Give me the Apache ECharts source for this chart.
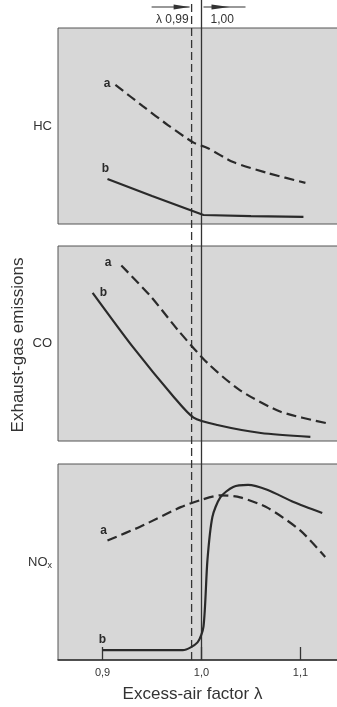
<!DOCTYPE html>
<html>
<head>
<meta charset="utf-8">
<script src="https://cdn.jsdelivr.net/npm/echarts@6/dist/echarts.min.js"></script>
<style>
  html, body { margin: 0; padding: 0; background: #fff; overflow: hidden; }
  #chart { width: 350px; height: 707px; }
</style>
</head>
<body>
<div id="chart"></div>
<script>
// tick labels of the excess-air factor axis
const lambdaTicks = [0.9, 1.0, 1.1];
// vertical marks: λ 0,99 (dashed) and 1,00 (solid)
const refLines = [0.99, 1.00];
const panelNames = ['HC', 'CO', 'NO{sub|x}'];

// a = dashed curve, b = solid curve   [λ, relative emission]
const hcA = [[0.913, 71], [0.941, 60], [0.966, 50.5], [0.992, 41.5], [1.006, 38.8], [1.032, 31.6], [1.067, 26], [1.105, 21]];
const hcB = [[0.905, 23], [0.95, 14.3], [1.002, 4.6], [1.05, 4], [1.103, 3.6]];
const coA = [[0.919, 90], [0.949, 74], [0.976, 57], [1.006, 40], [1.039, 26], [1.080, 15], [1.128, 9]];
const coB = [[0.890, 76], [0.931, 48], [0.972, 22.6], [0.992, 12], [1.016, 8.2], [1.060, 4.1], [1.110, 2.1]];
const noA = [[0.905, 61], [0.938, 68], [0.979, 78], [0.999, 81.6], [1.019, 84], [1.039, 83], [1.067, 77.6], [1.1, 66], [1.125, 52.6]];
const noB = [[0.9, 5], [0.981, 5], [0.996, 9], [1.002, 17], [1.006, 51], [1.011, 73], [1.019, 83], [1.032, 88.3], [1.047, 89.3], [1.067, 86.7], [1.093, 80.6], [1.122, 75]];

const chart = echarts.init(document.getElementById('chart'));
const FONT = '"Liberation Sans", Arial, sans-serif';
const INK = '#2a2a2a';

const panels = [
  {top: 28, height: 196},
  {top: 246, height: 195},
  {top: 464, height: 196},
];

// curve with its letter on the first point
function curve(data, idx, dashed, letter, pos, offset, smooth) {
  const pts = data.map((d, i) => i === 0 ? {
    value: d,
    label: {show: true, formatter: letter, position: pos, offset: offset, distance: 4,
      fontFamily: FONT, fontWeight: 'bold', fontSize: 12, color: INK}
  } : d);
  return {
    type: 'line', xAxisIndex: idx, yAxisIndex: idx, data: pts,
    symbol: 'circle', symbolSize: 0, showSymbol: true, showAllSymbol: true,
    smooth: smooth, silent: true,
    itemStyle: {color: INK},
    lineStyle: {color: INK, width: 2.2, type: dashed ? [10, 5] : 'solid'},
    z: 5
  };
}

const xAxes = [0, 1, 2, 3].map(i => ({
  gridIndex: i, type: 'value', min: 0.855, max: 1.145, show: i === 2,
  axisLine: {show: true, onZero: false, lineStyle: {color: '#333', width: 1.5}},
  axisTick: {show: true, inside: true, length: 13, customValues: lambdaTicks, lineStyle: {color: '#333', width: 1.3}},
  axisLabel: {show: true, customValues: lambdaTicks, formatter: v => v.toFixed(1).replace('.', ','),
    color: '#333', fontFamily: FONT, fontSize: 11, margin: 7},
  splitLine: {show: false},
  name: i === 2 ? 'Excess-air factor λ' : '', nameLocation: 'middle', nameGap: 26,
  nameTextStyle: {fontFamily: FONT, fontSize: 17, color: '#333', padding: [0, 18, 0, 0]}
}));

const yAxes = [0, 1, 2, 3].map(i => ({
  gridIndex: i, type: 'value', min: 0, max: i === 3 ? 1 : 100,
  axisLine: {show: false}, axisTick: {show: false}, axisLabel: {show: false}, splitLine: {show: false},
  name: i < 3 ? panelNames[i] : '', nameLocation: 'middle', nameRotate: 0, nameGap: 6,
  nameTextStyle: {fontFamily: FONT, fontSize: 13, color: '#333', align: 'right', verticalAlign: 'middle',
    rich: {sub: {fontFamily: FONT, fontSize: 9, color: '#333', padding: [7, 0, 0, 0]}}}
}));

const grids = panels.map(p => ({
  left: 58, width: 287, top: p.top, height: p.height, show: true,
  backgroundColor: '#d7d7d7', borderColor: '#555', borderWidth: 1
}));
grids.push({left: 58, width: 287, top: 0, height: 660, show: false});

const refSeries = refLines.map((v, k) => ({
  type: 'line', xAxisIndex: 3, yAxisIndex: 3, data: [[v, 0], [v, 1]],
  symbol: 'none', silent: true, z: 4,
  lineStyle: {color: '#333', width: 1.3, type: k === 0 ? [8, 4] : 'solid'}
}));

chart.setOption({
  animation: false,
  backgroundColor: '#fff',
  grid: grids,
  xAxis: xAxes,
  yAxis: yAxes,
  series: [
    curve(hcA, 0, true, 'a', 'left', [-1, -1], 0.25),
    curve(hcB, 0, false, 'b', 'top', [-2, 0], 0),
    curve(coA, 1, true, 'a', 'left', [-6, -3], 0.25),
    curve(coB, 1, false, 'b', 'right', [3, 0], 0.25),
    curve(noA, 2, true, 'a', 'top', [-4, 0], 0.25),
    curve(noB, 2, false, 'b', 'top', [0, -1], 0.25),
    ...refSeries
  ]
});

// dimension arrows above the top panel
const x099 = chart.convertToPixel({xAxisIndex: 3}, refLines[0]);
const x100 = chart.convertToPixel({xAxisIndex: 3}, refLines[1]);
const ay = 7;
chart.setOption({
  graphic: [
    {type: 'text', x: 18, y: 345, rotation: Math.PI / 2,
      style: {text: 'Exhaust-gas emissions', fontFamily: FONT, fontSize: 17, fill: '#333', align: 'center', verticalAlign: 'middle'}},
    {type: 'line', shape: {x1: x099 - 40, y1: ay, x2: x099 - 2, y2: ay}, style: {stroke: '#333', lineWidth: 1.2}},
    {type: 'polygon', shape: {points: [[x099 - 18, ay - 2.5], [x099 - 2, ay], [x099 - 18, ay + 2.5]]}, style: {fill: '#333'}},
    {type: 'line', shape: {x1: x100 + 2, y1: ay, x2: x100 + 44, y2: ay}, style: {stroke: '#333', lineWidth: 1.2}},
    {type: 'polygon', shape: {points: [[x100 + 10, ay - 2.5], [x100 + 28, ay], [x100 + 10, ay + 2.5]]}, style: {fill: '#333'}},
    {type: 'text', x: x099 - 3, y: 20,
      style: {text: 'λ 0,99', fontFamily: FONT, fontSize: 12, fill: '#333', align: 'right', verticalAlign: 'middle'}},
    {type: 'text', x: x100 + 9, y: 20,
      style: {text: '1,00', fontFamily: FONT, fontSize: 12, fill: '#333', align: 'left', verticalAlign: 'middle'}}
  ]
});
</script>
</body>
</html>
